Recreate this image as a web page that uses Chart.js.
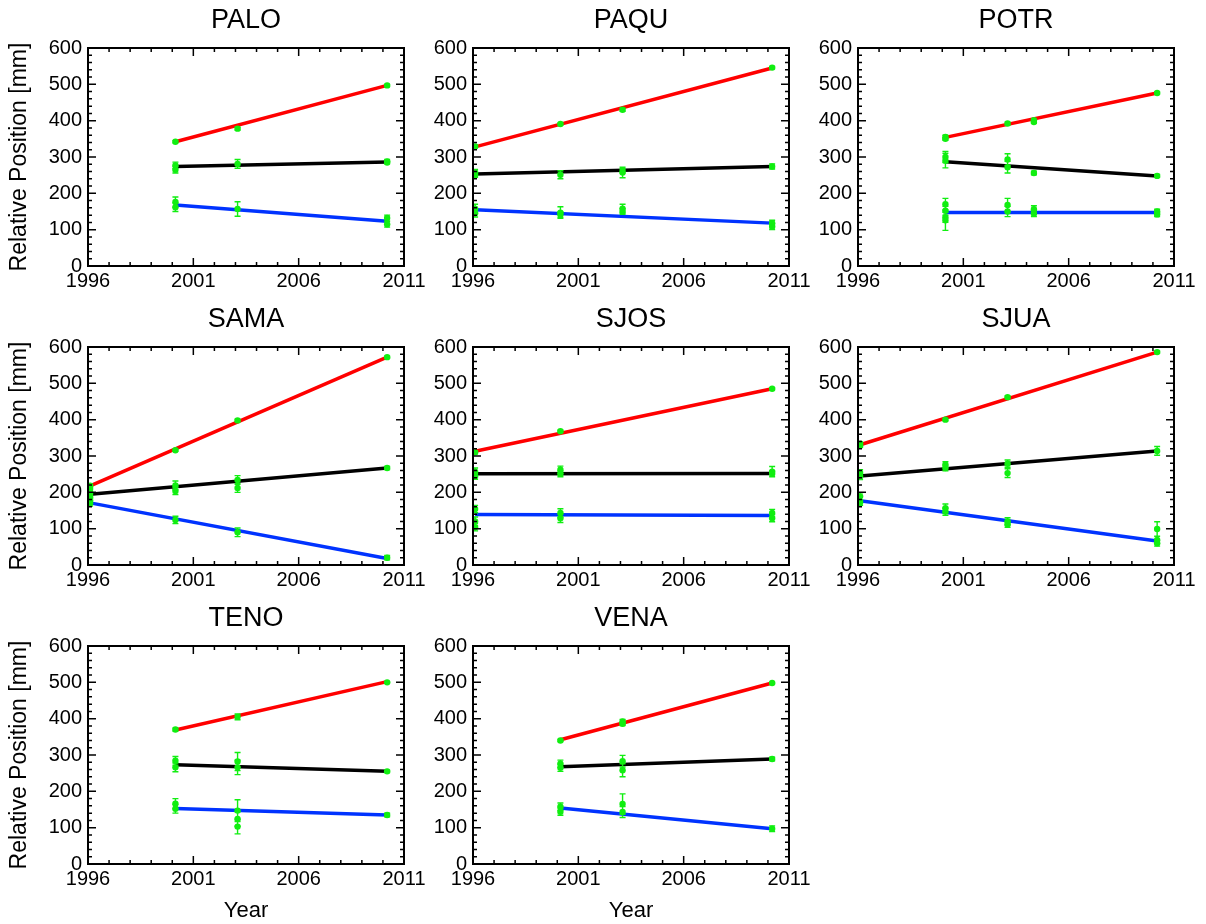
<!DOCTYPE html>
<html>
<head>
<meta charset="utf-8">
<script src="https://cdn.jsdelivr.net/npm/chart.js@4/dist/chart.umd.min.js"></script>
<style>
  body { margin: 0; background: #fff; }
  #grid { position: relative; width: 1206px; height: 924px; }
  #grid canvas { position: absolute; }
</style>
</head>
<body>
<div id="grid"></div>
<script>
// station names, in panel order
const stations = ['PALO', 'PAQU', 'POTR', 'SAMA', 'SJOS', 'SJUA', 'TENO', 'VENA']

// fitted trend lines: first/last epoch and start/end values [mm]
const fitStart = [2000.15, 1996.1, 2000.15, 1996.1, 1996.1, 1996.1, 2000.15, 2000.15]
const fitEnd   = [2010.2, 2010.2, 2010.2, 2010.2, 2010.2, 2010.2, 2010.2, 2010.2]
const redFit   = [[342, 497], [328, 545], [354, 476], [218, 572], [313, 485], [331, 586], [369, 502], [342, 498]]
const blackFit = [[274, 286], [253, 274], [287, 248], [195, 267], [251, 252], [245, 314], [273, 255], [268, 289]]
const blueFit  = [[168, 123], [155, 118], [147, 147], [171, 18], [139, 136], [177, 66], [153, 135], [154, 97]]

// observations: [year, value, error]
const obsPALO = [
  [2000.15, 342, 3], [2003.1, 378, 4], [2010.2, 497, 3],
  [2000.15, 277, 9], [2000.15, 265, 9], [2003.1, 281, 12], [2010.2, 288, 5], [2010.2, 285, 4],
  [2000.15, 176, 14], [2000.15, 162, 12], [2003.1, 157, 20], [2010.2, 132, 8], [2010.2, 115, 8]
]
const obsPAQU = [
  [1996.1, 329, 4], [2000.15, 391, 3], [2003.1, 430, 4], [2010.2, 546, 3],
  [1996.1, 258, 8], [1996.1, 250, 6], [2000.15, 251, 11], [2003.1, 257, 14], [2003.1, 264, 8], [2010.2, 274, 7],
  [1996.1, 158, 12], [1996.1, 145, 10], [2000.15, 147, 16], [2000.15, 141, 8],
  [2003.1, 158, 12], [2003.1, 150, 8], [2010.2, 118, 8], [2010.2, 108, 8]
]
const obsPOTR = [
  [2000.15, 355, 5], [2000.15, 350, 4], [2003.1, 392, 4], [2004.35, 401, 4], [2004.35, 396, 3], [2010.2, 476, 3],
  [2000.15, 300, 15], [2000.15, 290, 20], [2003.1, 293, 16], [2003.1, 272, 16], [2004.35, 256, 5], [2010.2, 248, 4],
  [2000.15, 170, 16], [2000.15, 152, 12], [2000.15, 134, 14], [2000.15, 126, 28],
  [2003.1, 168, 18], [2003.1, 150, 14], [2004.35, 156, 10], [2004.35, 144, 8], [2010.2, 150, 6], [2010.2, 142, 6]
]
const obsSAMA = [
  [1996.1, 218, 4], [2000.15, 316, 3], [2003.1, 398, 3], [2010.2, 572, 3],
  [1996.1, 210, 8], [1996.1, 198, 8], [1996.1, 186, 8], [2000.15, 219, 12], [2000.15, 204, 10],
  [2003.1, 234, 12], [2003.1, 212, 12], [2010.2, 267, 4],
  [1996.1, 178, 6], [1996.1, 170, 8], [2000.15, 124, 10], [2003.1, 90, 12], [2010.2, 20, 6]
]
const obsSJOS = [
  [1996.1, 310, 4], [2000.15, 368, 3], [2010.2, 485, 3],
  [1996.1, 257, 10], [1996.1, 244, 8], [2000.15, 262, 10], [2000.15, 251, 8], [2010.2, 257, 14], [2010.2, 251, 8],
  [1996.1, 154, 10], [1996.1, 120, 12], [1996.1, 104, 10], [2000.15, 143, 12], [2000.15, 129, 12],
  [2010.2, 143, 10], [2010.2, 129, 10]
]
const obsSJUA = [
  [1996.1, 334, 5], [1996.1, 328, 4], [2000.15, 400, 3], [2003.1, 462, 3], [2010.2, 586, 3],
  [1996.1, 254, 8], [1996.1, 243, 8], [2000.15, 276, 8], [2000.15, 267, 8], [2003.1, 279, 10], [2003.1, 253, 12],
  [2010.2, 314, 12],
  [1996.1, 189, 10], [1996.1, 172, 8], [2000.15, 156, 12], [2000.15, 147, 10], [2003.1, 120, 10], [2003.1, 112, 8],
  [2010.2, 99, 20], [2010.2, 69, 10], [2010.2, 60, 8]
]
const obsTENO = [
  [2000.15, 370, 4], [2003.1, 405, 8], [2010.2, 500, 2],
  [2000.15, 284, 12], [2000.15, 266, 12], [2003.1, 282, 25], [2003.1, 266, 20], [2010.2, 255, 3],
  [2000.15, 166, 14], [2000.15, 152, 12], [2003.1, 147, 30], [2003.1, 124, 20], [2003.1, 103, 20], [2010.2, 135, 5]
]
const obsVENA = [
  [2000.15, 340, 3], [2003.1, 392, 6], [2003.1, 386, 5], [2010.2, 498, 2],
  [2000.15, 276, 10], [2000.15, 265, 10], [2003.1, 283, 16], [2003.1, 258, 18], [2010.2, 289, 5],
  [2000.15, 158, 10], [2000.15, 144, 10], [2003.1, 165, 28], [2003.1, 143, 15], [2010.2, 97, 8]
]
const observations = [obsPALO, obsPAQU, obsPOTR, obsSAMA, obsSJOS, obsSJUA, obsTENO, obsVENA]

const X_MIN = 1996, X_MAX = 2011
const Y_MIN = 0, Y_MAX = 600

const GREEN = '#11ee11'
const FONT = 'Liberation Sans, Arial, Helvetica, sans-serif'

// inward ticks on all four sides plus the frame
const frameTicks = {
  id: 'frameTicks',
  afterDraw(chart) {
    const { ctx, chartArea: a, scales: { x, y } } = chart
    ctx.save()
    ctx.strokeStyle = '#000'
    ctx.lineWidth = 1.5
    ctx.beginPath()
    const xt = x.ticks.map(t => t.value)
    for (let i = 0; i < xt.length; i++) {
      const px = x.getPixelForValue(xt[i])
      ctx.moveTo(px, a.bottom); ctx.lineTo(px, a.bottom - 8)
      ctx.moveTo(px, a.top); ctx.lineTo(px, a.top + 8)
      if (i < xt.length - 1) {
        const step = (xt[i + 1] - xt[i]) / 5
        for (let k = 1; k < 5; k++) {
          const mx = x.getPixelForValue(xt[i] + k * step)
          ctx.moveTo(mx, a.bottom); ctx.lineTo(mx, a.bottom - 4)
          ctx.moveTo(mx, a.top); ctx.lineTo(mx, a.top + 4)
        }
      }
    }
    const yt = y.ticks.map(t => t.value)
    for (let i = 0; i < yt.length; i++) {
      const py = y.getPixelForValue(yt[i])
      ctx.moveTo(a.left, py); ctx.lineTo(a.left + 8, py)
      ctx.moveTo(a.right, py); ctx.lineTo(a.right - 8, py)
      if (i < yt.length - 1) {
        const step = (yt[i + 1] - yt[i]) / 5
        for (let k = 1; k < 5; k++) {
          const my = y.getPixelForValue(yt[i] + k * step)
          ctx.moveTo(a.left, my); ctx.lineTo(a.left + 4, my)
          ctx.moveTo(a.right, my); ctx.lineTo(a.right - 4, my)
        }
      }
    }
    ctx.stroke()
    ctx.lineWidth = 2
    ctx.strokeRect(a.left, a.top, a.right - a.left, a.bottom - a.top)
    ctx.restore()
  }
}

// vertical error bars for the observation dataset
const errorBars = {
  id: 'errorBars',
  afterDatasetsDraw(chart) {
    const { ctx, scales: { x, y } } = chart
    const ds = chart.data.datasets[0]
    ctx.save()
    ctx.strokeStyle = GREEN
    ctx.lineWidth = 1.4
    ctx.beginPath()
    ds.data.forEach(p => {
      const px = x.getPixelForValue(p.x)
      const top = y.getPixelForValue(p.y + p.err)
      const bot = y.getPixelForValue(p.y - p.err)
      ctx.moveTo(px, top); ctx.lineTo(px, bot)
      ctx.moveTo(px - 3, top); ctx.lineTo(px + 3, top)
      ctx.moveTo(px - 3, bot); ctx.lineTo(px + 3, bot)
    })
    ctx.stroke()
    ctx.restore()
  }
}

function fitLine(i, vals, color) {
  return {
    type: 'line',
    data: [{ x: fitStart[i], y: vals[0] }, { x: fitEnd[i], y: vals[1] }],
    borderColor: color,
    borderWidth: 3.5,
    pointRadius: 0,
    fill: false,
    order: 1
  }
}

const grid = document.getElementById('grid')
const CW = 430, CH = 326

stations.forEach((name, i) => {
  const col = i % 3, row = Math.floor(i / 3)
  const canvas = document.createElement('canvas')
  canvas.width = CW
  canvas.height = CH
  canvas.style.left = (col * 385) + 'px'
  canvas.style.top = (row * 299) + 'px'
  grid.appendChild(canvas)

  const bottomRow = i >= 6

  new Chart(canvas, {
    type: 'scatter',
    data: {
      datasets: [
        {
          type: 'scatter',
          data: observations[i].map(o => ({ x: o[0], y: o[1], err: o[2] })),
          backgroundColor: GREEN,
          borderColor: GREEN,
          pointRadius: 3.2,
          pointBorderWidth: 0,
          order: 0
        },
        fitLine(i, redFit[i], '#ff0000'),
        fitLine(i, blackFit[i], '#000000'),
        fitLine(i, blueFit[i], '#0033ff')
      ]
    },
    options: {
      responsive: false,
      animation: false,
      layout: { padding: { left: 0, right: 26, top: 0, bottom: 0 } },
      plugins: {
        legend: { display: false },
        tooltip: { enabled: false },
        title: {
          display: true,
          text: name,
          fullSize: false,
          color: '#000',
          font: { family: FONT, size: 27, weight: 'normal' },
          padding: { top: 4, bottom: 11.6 }
        }
      },
      scales: {
        x: {
          type: 'linear',
          min: X_MIN,
          max: X_MAX,
          grid: { display: false, drawTicks: false },
          border: { display: false },
          ticks: {
            stepSize: 5,
            padding: 3,
            maxRotation: 0,
            autoSkip: false,
            color: '#000',
            font: { family: FONT, size: 20 },
            callback: v => String(v)
          },
          title: {
            display: bottomRow,
            text: 'Year',
            color: '#000',
            font: { family: FONT, size: 22 },
            padding: { top: 0, bottom: 0 }
          },
          afterFit: s => { s.height = 60 }
        },
        y: {
          min: Y_MIN,
          max: Y_MAX,
          grid: { display: false, drawTicks: false },
          border: { display: false },
          ticks: {
            stepSize: 100,
            padding: 6,
            color: '#000',
            font: { family: FONT, size: 20 },
            callback: v => String(v)
          },
          title: {
            display: col === 0,
            text: 'Relative Position [mm]',
            color: '#000',
            font: { family: FONT, size: 23 },
            padding: { top: 6, bottom: 0 }
          },
          afterFit: s => { s.width = 88 }
        }
      }
    },
    plugins: [errorBars, frameTicks]
  })
})
</script>
</body>
</html>
